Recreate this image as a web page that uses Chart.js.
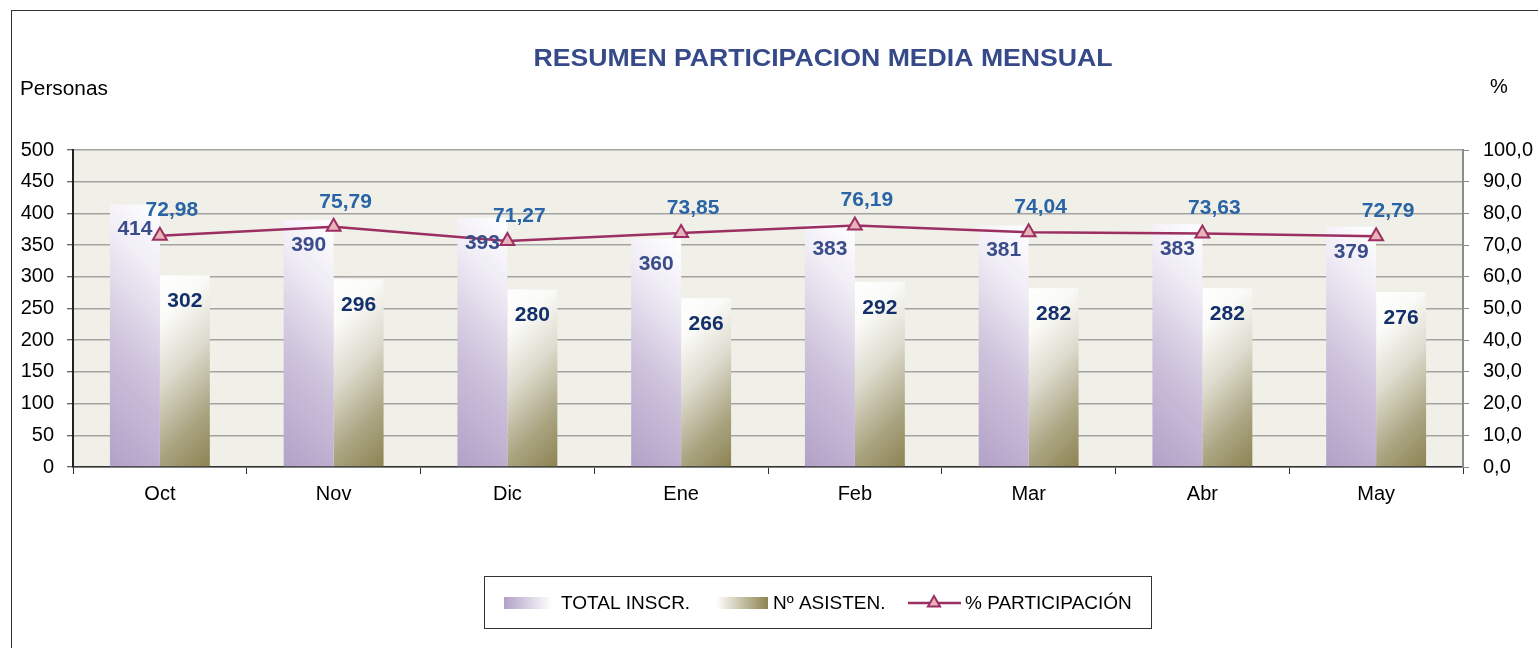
<!DOCTYPE html>
<html><head><meta charset="utf-8">
<script src="https://cdn.jsdelivr.net/npm/chart.js@4.4.0/dist/chart.umd.min.js"></script>
<style>
html,body{margin:0;padding:0;background:#fff;overflow:hidden}
#wrap{position:relative;width:1538px;height:648px}
#frame{position:absolute;left:11px;top:10px;width:1600px;height:700px;border:1px solid #333;box-sizing:border-box}
canvas{position:absolute;left:0;top:0}
</style></head><body>
<div id="wrap"><div id="frame"></div><canvas id="c" width="1538" height="648"></canvas></div>
<script>
const categories = ['Oct','Nov','Dic','Ene','Feb','Mar','Abr','May'];
const totalInscr = [414, 390, 393, 360, 383, 381, 383, 379];
const asisten = [302, 296, 280, 266, 292, 282, 282, 276];
const participacion = [72.98, 75.79, 71.27, 73.85, 76.19, 74.04, 73.63, 72.79];
const seriesNames = ['TOTAL INSCR.', 'Nº ASISTEN.', '% PARTICIPACIÓN'];
const leftTicks = [0, 50, 100, 150, 200, 250, 300, 350, 400, 450, 500];
const rightTicks = [0, 10, 20, 30, 40, 50, 60, 70, 80, 90, 100];

const FONT = '"Liberation Sans", Arial, Helvetica, sans-serif';
const CAT_PCT = 0.575;

function barGradient(ctx, which) {
  const chart = ctx.chart;
  const xs = chart.scales && chart.scales.x, ys = chart.scales && chart.scales.y;
  if (!chart.chartArea || !xs || !ys || ctx.dataIndex === undefined || ctx.raw === undefined) {
    return which === 0 ? '#CBBFDA' : '#C4C0A6';
  }
  const c = xs.getPixelForValue(ctx.dataIndex);
  const w = (xs.width / categories.length) * CAT_PCT / 2;
  const left = which === 0 ? c - w : c;
  const right = left + w;
  const top = ys.getPixelForValue(ctx.raw);
  const base = ys.getPixelForValue(0);
  const t = ((right - left) + (base - top)) / 2;
  const g = chart.ctx;
  let grad;
  if (which === 0) {
    grad = g.createLinearGradient(left, base, left + t, base - t);
    grad.addColorStop(0, '#B2A1C7');
    grad.addColorStop(0.4, '#CDC1DB');
    grad.addColorStop(0.75, '#EFECF5');
    grad.addColorStop(1, '#FFFFFF');
  } else {
    grad = g.createLinearGradient(right, base, right - t, base - t);
    grad.addColorStop(0, '#8C8351');
    grad.addColorStop(0.25, '#ABA582');
    grad.addColorStop(0.55, '#DEDCCF');
    grad.addColorStop(0.8, '#FAFAF7');
    grad.addColorStop(1, '#FFFFFF');
  }
  return grad;
}

function drawTriangle(ctx, x, y, r, fill, stroke, lw) {
  ctx.beginPath();
  ctx.moveTo(x, y - r);
  ctx.lineTo(x + r * 0.866, y + r * 0.5);
  ctx.lineTo(x - r * 0.866, y + r * 0.5);
  ctx.closePath();
  ctx.fillStyle = fill; ctx.fill();
  ctx.strokeStyle = stroke; ctx.lineWidth = lw; ctx.stroke();
}

const decor = {
  id: 'decor',
  beforeDraw(chart) {
    const { ctx, chartArea: a } = chart;
    ctx.save();
    ctx.fillStyle = '#F0EFE8';
    ctx.fillRect(a.left, a.top, a.width, a.height);
    ctx.restore();
  },
  afterDatasetsDraw(chart) {
    const ctx = chart.ctx;
    ctx.save();
    ctx.font = 'bold 21px ' + FONT;
    ctx.textAlign = 'center';
    ctx.textBaseline = 'middle';
    chart.getDatasetMeta(0).data.forEach((el, i) => {
      ctx.fillStyle = '#3A4C89';
      ctx.fillText(String(totalInscr[i]), el.x, el.y + 25);
    });
    chart.getDatasetMeta(1).data.forEach((el, i) => {
      ctx.fillStyle = '#13306B';
      ctx.fillText(String(asisten[i]), el.x, el.y + 26);
    });
    chart.getDatasetMeta(2).data.forEach((el, i) => {
      ctx.fillStyle = '#2864A6';
      ctx.fillText(participacion[i].toFixed(2).replace('.', ','), el.x + 12, el.y - 25);
    });
    ctx.restore();
  },
  afterDraw(chart) {
    const ctx = chart.ctx;
    ctx.save();
    ctx.fillStyle = '#364A8A';
    ctx.font = 'bold 24px ' + FONT;
    ctx.textAlign = 'center';
    ctx.textBaseline = 'middle';
    ctx.save();
    ctx.translate(823, 59);
    ctx.scale(1.11, 1);
    ctx.fillText('RESUMEN PARTICIPACION MEDIA MENSUAL', 0, 0);
    ctx.restore();
    ctx.fillStyle = '#000';
    ctx.font = '20px ' + FONT;
    ctx.textAlign = 'left';
    ctx.save();
    ctx.translate(20, 89);
    ctx.scale(1.04, 1);
    ctx.fillText('Personas', 0, 0);
    ctx.restore();
    ctx.textAlign = 'center';
    ctx.fillText('%', 1499, 87);
    const lx = 484, ly = 576, lw = 667, lh = 52, cy = 603;
    ctx.fillStyle = '#fff';
    ctx.fillRect(lx, ly, lw, lh);
    ctx.strokeStyle = '#333'; ctx.lineWidth = 1;
    ctx.strokeRect(lx + 0.5, ly + 0.5, lw, lh);
    let g1 = ctx.createLinearGradient(504, 0, 552, 0);
    g1.addColorStop(0, '#B2A1C7'); g1.addColorStop(1, '#FFFFFF');
    ctx.fillStyle = g1; ctx.fillRect(504, 597, 48, 12);
    let g2 = ctx.createLinearGradient(716, 0, 768, 0);
    g2.addColorStop(0, '#FFFFFF'); g2.addColorStop(1, '#8C8351');
    ctx.fillStyle = g2; ctx.fillRect(716, 597, 52, 12);
    ctx.strokeStyle = '#9C2F62'; ctx.lineWidth = 2.5;
    ctx.beginPath(); ctx.moveTo(908, cy); ctx.lineTo(961, cy); ctx.stroke();
    drawTriangle(ctx, 934, cy, 7, '#E9B3BA', '#9C2F62', 2);
    ctx.fillStyle = '#000';
    ctx.font = '19px ' + FONT;
    ctx.textAlign = 'left';
    ctx.textBaseline = 'middle';
    const names = chart.data.datasets.map(d => d.label);
    ctx.fillText(names[0], 561, cy + 1);
    ctx.fillText(names[1], 773, cy + 1);
    ctx.fillText(names[2], 965, cy + 1);
    ctx.restore();
  }
};

new Chart(document.getElementById('c'), {
  data: {
    labels: categories,
    datasets: [
      { type: 'bar', label: seriesNames[0], data: totalInscr, yAxisID: 'y', order: 1,
        backgroundColor: (c) => barGradient(c, 0), borderWidth: 0,
        categoryPercentage: CAT_PCT, barPercentage: 1 },
      { type: 'bar', label: seriesNames[1], data: asisten, yAxisID: 'y', order: 1,
        backgroundColor: (c) => barGradient(c, 1), borderWidth: 0,
        categoryPercentage: CAT_PCT, barPercentage: 1 },
      { type: 'line', label: seriesNames[2], data: participacion, yAxisID: 'y1', order: 0,
        borderColor: '#9C2F62', borderWidth: 2.5, tension: 0, fill: false,
        pointStyle: 'triangle', pointRadius: 8, pointHoverRadius: 8,
        pointBackgroundColor: '#E9B3BA', pointBorderColor: '#9C2F62', pointBorderWidth: 2 }
    ]
  },
  options: {
    responsive: false,
    devicePixelRatio: 1,
    animation: false,
    events: [],
    layout: { padding: { top: 150, bottom: 121, left: 0, right: 0 } },
    plugins: { legend: { display: false }, title: { display: false }, tooltip: { enabled: false } },
    scales: {
      x: {
        offset: true,
        grid: { display: true, drawOnChartArea: false, drawTicks: true, offset: true, tickLength: 7, tickColor: '#333', tickWidth: 1 },
        border: { display: true, color: '#333', width: 1.5 },
        ticks: { color: '#000', font: { family: FONT, size: 20 }, padding: 8, maxRotation: 0 },
        afterFit: (s) => { s.height = 60; }
      },
      y: {
        position: 'left', min: 0, max: 500,
        afterBuildTicks: (s) => { s.ticks = leftTicks.map(v => ({ value: v })); },
        grid: { color: '#A3A3A3', lineWidth: 1.5, tickLength: 6, tickColor: '#333', tickWidth: 1 },
        border: { display: true, color: '#222', width: 2 },
        ticks: { color: '#000', font: { family: FONT, size: 20 }, padding: 13, callback: (v) => String(v) },
        afterFit: (s) => { s.width = 73; }
      },
      y1: {
        position: 'right', min: 0, max: 100,
        afterBuildTicks: (s) => { s.ticks = rightTicks.map(v => ({ value: v })); },
        grid: { drawOnChartArea: false, tickLength: 6, tickColor: '#888', tickWidth: 1 },
        border: { display: true, color: '#8C8C8C', width: 2 },
        ticks: { color: '#000', font: { family: FONT, size: 20 }, padding: 14, callback: (v) => Number(v).toFixed(1).replace('.', ',') },
        afterFit: (s) => { s.width = 75; }
      }
    }
  },
  plugins: [decor]
});
</script>
</body></html>
